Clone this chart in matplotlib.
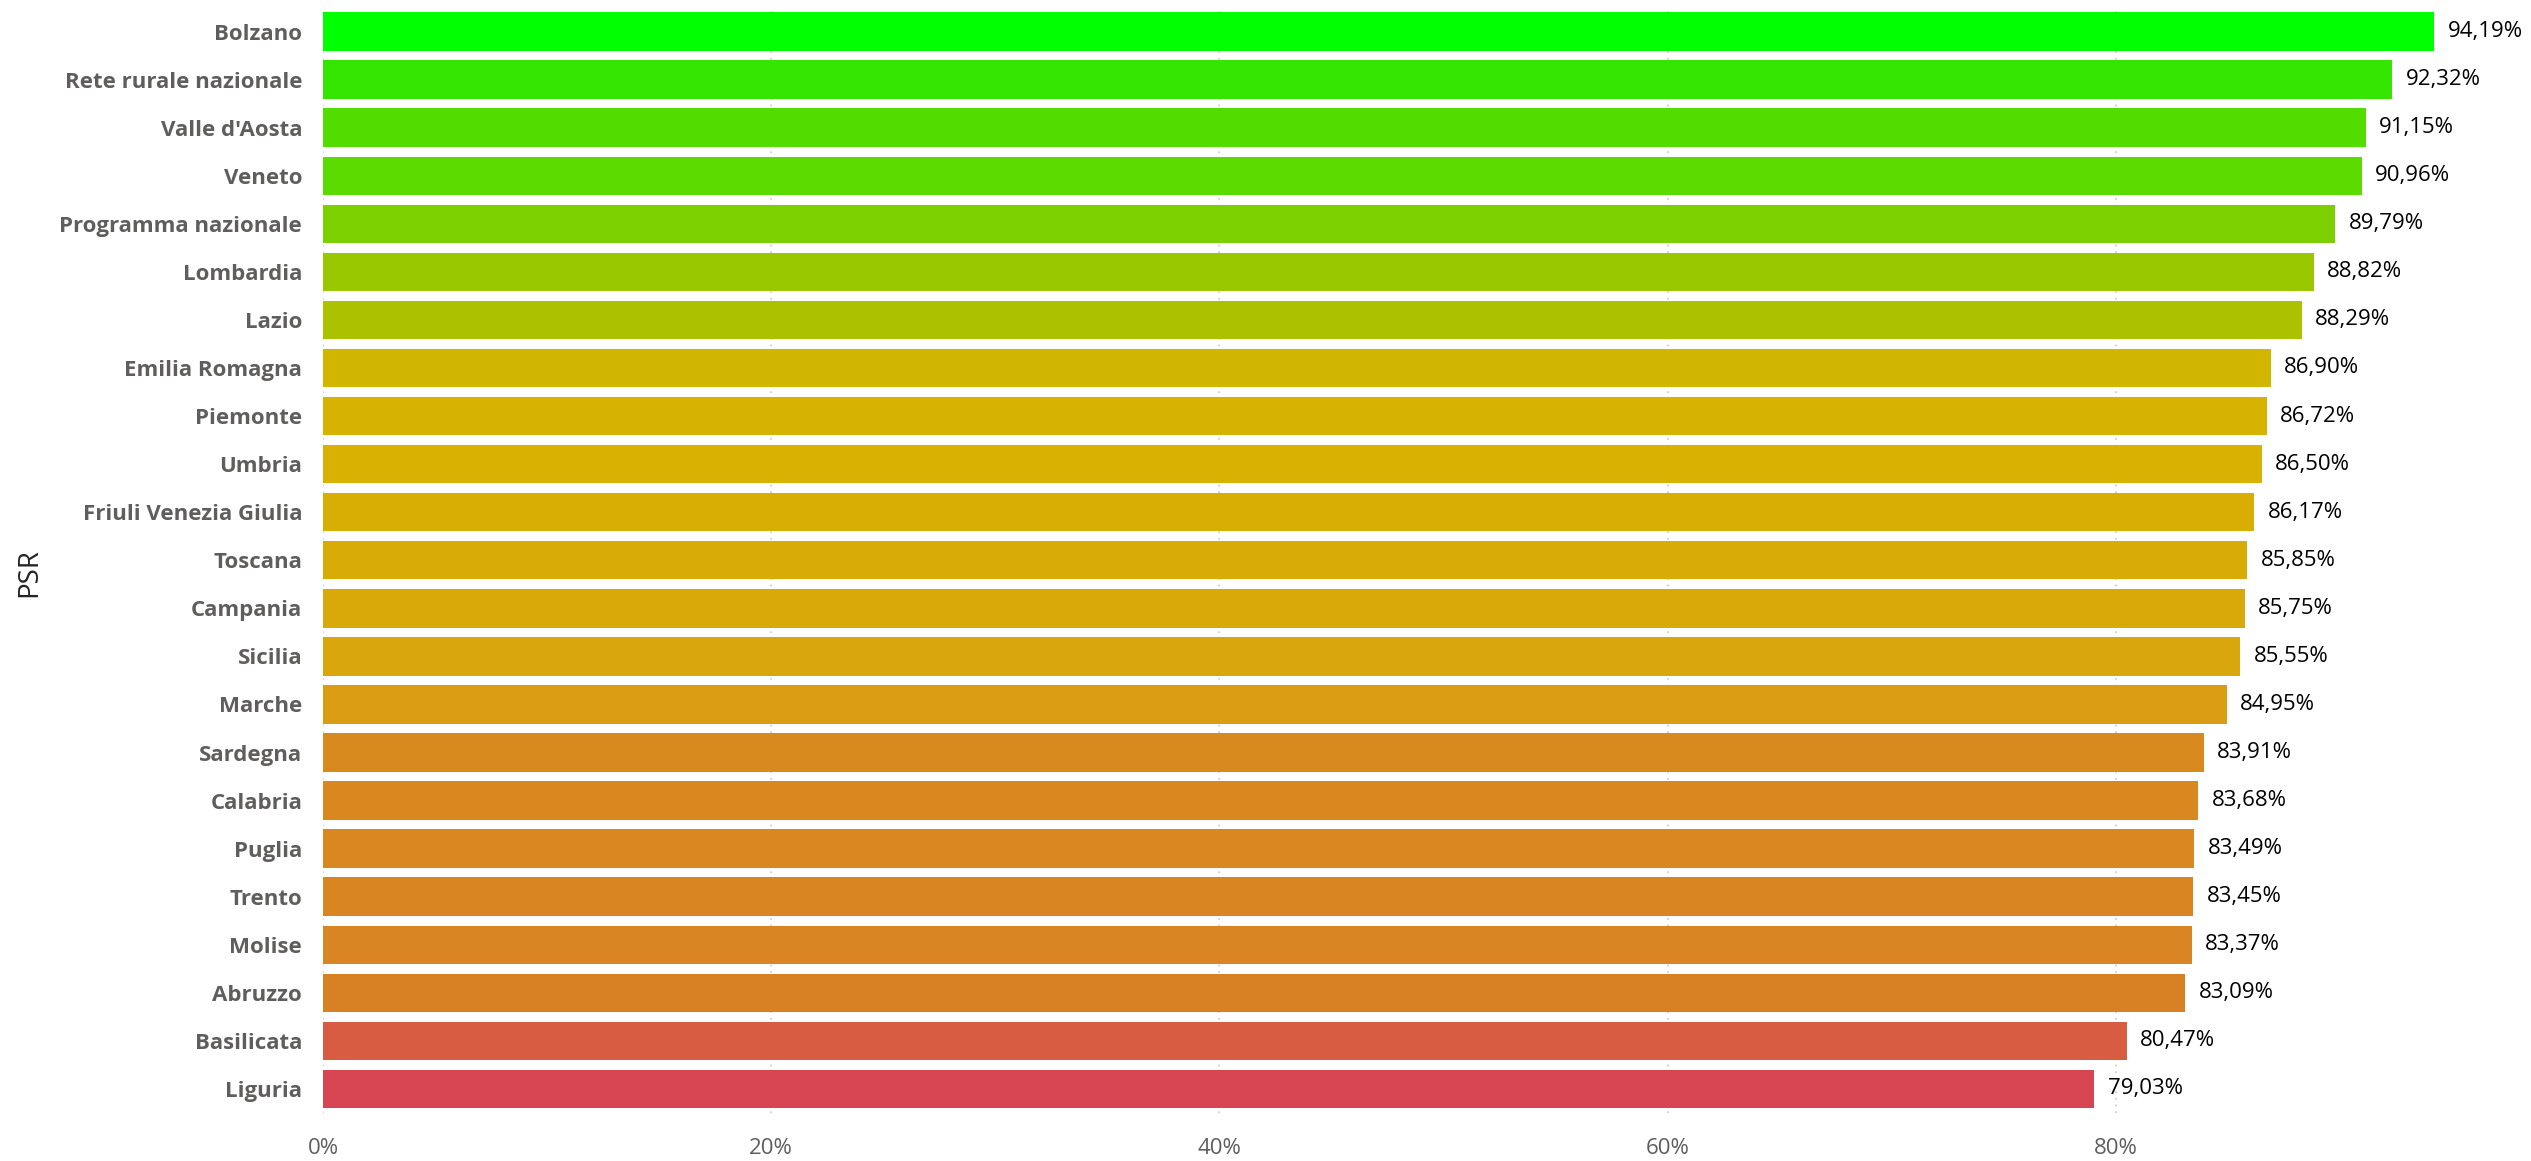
import matplotlib
matplotlib.use("Agg")
import matplotlib.pyplot as plt
from matplotlib.ticker import FuncFormatter

categories = ["Bolzano", "Rete rurale nazionale", "Valle d'Aosta", "Veneto",
              "Programma nazionale", "Lombardia", "Lazio", "Emilia Romagna",
              "Piemonte", "Umbria", "Friuli Venezia Giulia", "Toscana",
              "Campania", "Sicilia", "Marche", "Sardegna", "Calabria", "Puglia",
              "Trento", "Molise", "Abruzzo", "Basilicata", "Liguria"]
values = [94.19, 92.32, 91.15, 90.96, 89.79, 88.82, 88.29, 86.90, 86.72, 86.50,
          86.17, 85.85, 85.75, 85.55, 84.95, 83.91, 83.68, 83.49, 83.45, 83.37,
          83.09, 80.47, 79.03]
colors = ["#00FF00", "#33E500", "#52DC00", "#5BDB00", "#7DD000", "#99C700",
          "#ABC200", "#D1B600", "#D6B300", "#D8B102", "#D8AE05", "#D9AB07",
          "#D9A909", "#D9A60C", "#D99C12", "#D98A1E", "#D98820", "#D98721",
          "#D98622", "#D98523", "#D88124", "#D85C42", "#D74452"]
xticks = [0, 20, 40, 60, 80]

W, H = 2531, 1161
fig = plt.figure(figsize=(W / 100, H / 100), dpi=100)
ax = fig.add_axes([323 / W, 1 - 1113 / H, (2434 - 323) / W, (1113 - 7.5) / H])

ypos = list(range(len(categories)))
ax.barh(ypos, values, height=0.8, color=colors, zorder=2)
ax.set_ylim(len(categories) - 0.5, -0.5)
ax.set_xlim(0, max(values))

ax.set_yticks(ypos)
ax.set_yticklabels(categories, fontfamily="Open Sans", fontweight="bold",
                   fontsize=16, color="#605E5C")
ax.set_xticks(xticks)
ax.xaxis.set_major_formatter(FuncFormatter(lambda v, p: f"{v:.0f}%"))
for lbl in ax.get_xticklabels():
    lbl.set_fontfamily("Open Sans")
    lbl.set_fontsize(16)
    lbl.set_color("#605E5C")
ax.tick_params(axis="both", length=0)
ax.tick_params(axis="y", pad=15)
ax.tick_params(axis="x", pad=18)

ax.grid(axis="x", color="#C8C8C8", linestyle=(0, (1, 3)), linewidth=1.2, zorder=0)
for s in ax.spines.values():
    s.set_visible(False)

for y, v in zip(ypos, values):
    ax.text(v + 0.6, y, f"{v:.2f}%".replace(".", ","), va="center", ha="left",
            fontfamily="Open Sans", fontsize=16, color="#000000", clip_on=False)

fig.text(29 / W, 1 - 573 / H, "PSR", rotation=90, va="center", ha="center",
         fontfamily="Open Sans", fontsize=20, color="#252423")

fig.savefig("out.png", dpi=100)
